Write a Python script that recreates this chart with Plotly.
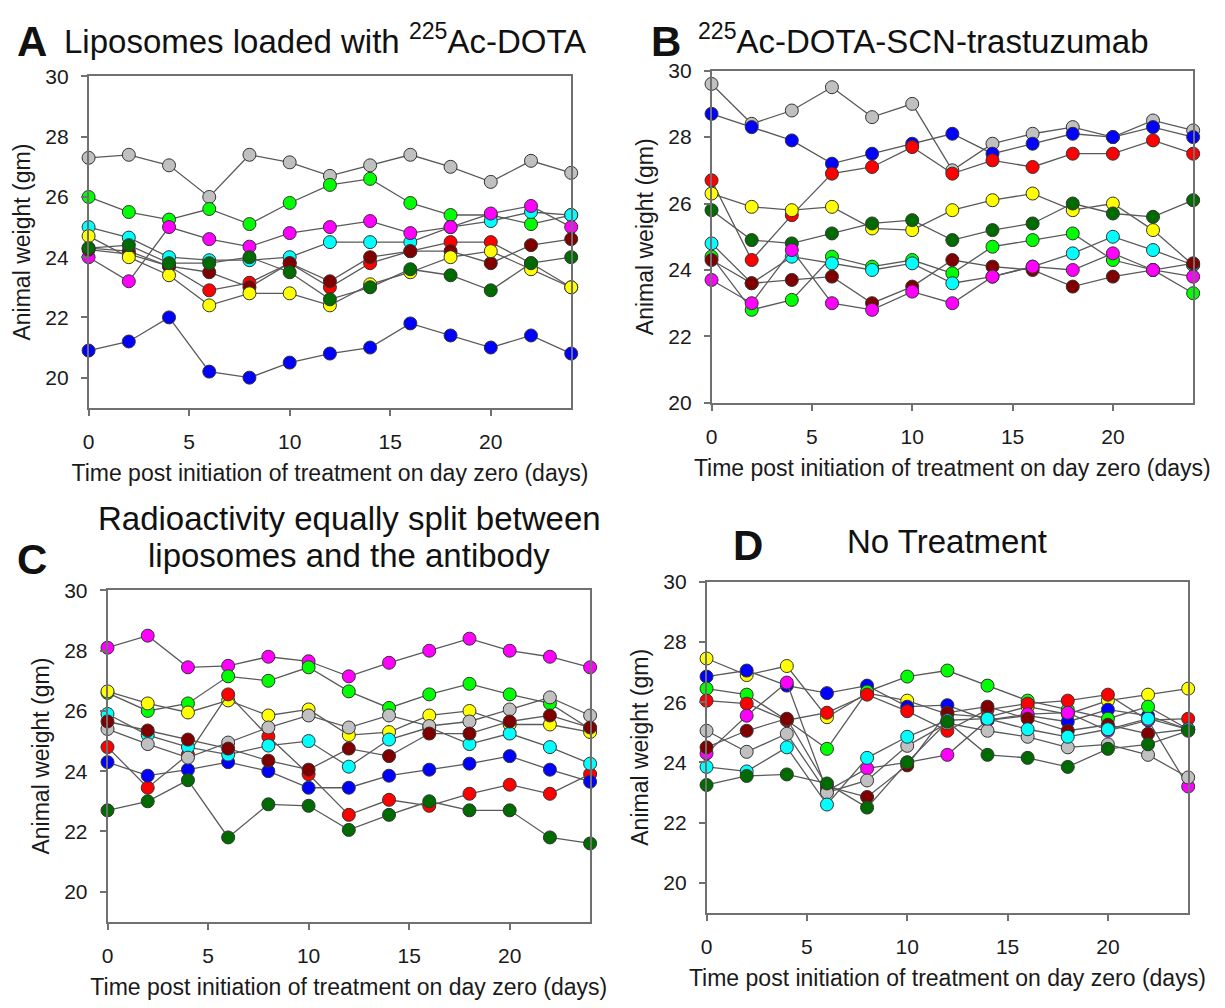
import plotly.graph_objects as go

W, H = 1225, 1008
days = [0, 2, 4, 6, 8, 10, 12, 14, 16, 18, 20, 22, 24]

# ---------------- Panel A: Liposomes loaded with 225Ac-DOTA ----------------
A_gray    = [27.3, 27.4, 27.05, 26.0, 27.4, 27.15, 26.7, 27.05, 27.4, 27.0, 26.5, 27.2, 26.8]
A_green   = [26.0, 25.5, 25.25, 25.6, 25.1, 25.8, 26.4, 26.6, 25.8, 25.4, 25.4, 25.1, 25.4]
A_cyan    = [25.0, 24.65, 24.0, 23.9, 23.9, 24.0, 24.5, 24.5, 24.5, 25.0, 25.2, 25.5, 25.4]
A_magenta = [24.0, 23.2, 25.0, 24.6, 24.35, 24.8, 25.0, 25.2, 24.8, 25.0, 25.45, 25.7, 25.0]
A_red     = [24.3, 24.2, 23.7, 22.9, 23.15, 23.8, 23.0, 23.8, 24.2, 24.5, 24.5, 23.8, 23.0]
A_maroon  = [24.25, 24.1, 23.7, 23.5, 23.0, 23.8, 23.2, 24.0, 24.2, 24.2, 23.8, 24.4, 24.6]
A_yellow  = [24.7, 24.0, 23.4, 22.4, 22.8, 22.8, 22.4, 23.1, 23.5, 24.0, 24.2, 23.6, 23.0]
A_dkgreen = [24.3, 24.4, 23.8, 23.8, 24.0, 23.5, 22.6, 23.0, 23.6, 23.4, 22.9, 23.8, 24.0]
A_blue    = [20.9, 21.2, 22.0, 20.2, 20.0, 20.5, 20.8, 21.0, 21.8, 21.4, 21.0, 21.4, 20.8]

# ---------------- Panel B: 225Ac-DOTA-SCN-trastuzumab ----------------
B_gray    = [29.6, 28.4, 28.8, 29.5, 28.6, 29.0, 27.0, 27.8, 28.1, 28.3, 28.0, 28.5, 28.2]
B_blue    = [28.7, 28.3, 27.9, 27.2, 27.5, 27.8, 28.1, 27.5, 27.8, 28.1, 28.0, 28.3, 28.0]
B_red     = [26.7, 24.3, 25.65, 26.9, 27.1, 27.7, 26.9, 27.3, 27.1, 27.5, 27.5, 27.9, 27.5]
B_yellow  = [26.3, 25.9, 25.8, 25.9, 25.25, 25.2, 25.8, 26.1, 26.3, 25.8, 26.0, 25.2, 24.15]
B_dkgreen = [25.8, 24.9, 24.8, 25.1, 25.4, 25.5, 24.9, 25.2, 25.4, 26.0, 25.7, 25.6, 26.1]
B_green   = [24.4, 22.8, 23.1, 24.4, 24.1, 24.3, 23.9, 24.7, 24.9, 25.1, 24.3, 24.0, 23.3]
B_cyan    = [24.8, 23.6, 24.4, 24.2, 24.0, 24.2, 23.6, 23.8, 24.1, 24.5, 25.0, 24.6, 24.15]
B_maroon  = [24.3, 23.6, 23.7, 23.8, 23.0, 23.5, 24.3, 24.1, 24.0, 23.5, 23.8, 24.0, 24.2]
B_magenta = [23.7, 23.0, 24.6, 23.0, 22.8, 23.35, 23.0, 23.8, 24.1, 24.0, 24.5, 24.0, 23.8]

# ---------------- Panel C: split between liposomes and antibody ----------------
C_magenta = [28.1, 28.5, 27.45, 27.5, 27.8, 27.65, 27.15, 27.6, 28.0, 28.4, 28.0, 27.8, 27.45]
C_green   = [26.6, 26.0, 26.25, 27.15, 27.0, 27.45, 26.65, 26.1, 26.55, 26.9, 26.55, 26.25, 25.4]
C_yellow  = [26.65, 26.25, 25.95, 26.35, 25.85, 26.05, 25.2, 25.3, 25.85, 26.0, 25.55, 25.55, 25.3]
C_red     = [24.8, 23.45, 24.55, 26.55, 25.15, 23.9, 22.55, 23.05, 22.85, 23.25, 23.55, 23.25, 23.9]
C_blue    = [24.3, 23.85, 24.05, 24.3, 24.0, 23.45, 23.45, 23.85, 24.05, 24.25, 24.5, 24.05, 23.65]
C_dkgreen = [22.7, 23.0, 23.7, 21.8, 22.9, 22.85, 22.05, 22.55, 23.0, 22.7, 22.7, 21.8, 21.6]
C_cyan    = [25.9, 25.2, 24.8, 24.55, 24.85, 25.0, 24.15, 25.05, 25.45, 24.9, 25.25, 24.8, 24.25]
C_gray    = [25.4, 24.9, 24.45, 24.95, 25.45, 25.85, 25.45, 25.85, 25.5, 25.65, 26.05, 26.45, 25.85]
C_maroon  = [25.65, 25.35, 25.05, 24.75, 24.35, 24.05, 24.75, 24.5, 25.25, 25.25, 25.65, 25.85, 25.45]

# ---------------- Panel D: No Treatment ----------------
D_yellow  = [27.45, 26.9, 27.2, 25.5, 26.3, 26.05, 25.6, 25.5, 25.85, 25.6, 26.05, 26.25, 26.45]
D_blue    = [26.85, 27.05, 26.55, 26.3, 26.55, 25.85, 25.9, 25.4, 25.55, 25.35, 25.75, 25.55, 25.1]
D_green   = [26.45, 26.25, 25.4, 24.45, 26.35, 26.85, 27.05, 26.55, 26.05, 25.75, 25.45, 25.85, 25.1]
D_red     = [26.05, 25.95, 25.4, 25.65, 26.25, 25.7, 25.05, 25.75, 25.95, 26.05, 26.25, 25.4, 25.45]
D_magenta = [24.3, 25.55, 26.65, 23.05, 23.8, 24.0, 24.25, 25.4, 25.6, 25.65, 25.05, 25.4, 23.2]
D_maroon  = [24.5, 25.05, 25.45, 23.2, 22.85, 23.9, 25.65, 25.85, 25.45, 25.05, 25.25, 24.95, 25.1]
D_gray    = [25.05, 24.35, 24.95, 23.0, 23.4, 24.55, 25.3, 25.05, 24.85, 24.5, 24.6, 24.25, 23.5]
D_cyan    = [23.85, 23.7, 24.5, 22.6, 24.15, 24.85, 25.4, 25.45, 25.1, 24.85, 25.1, 25.45, 25.1]
D_dkgreen = [23.25, 23.55, 23.6, 23.3, 22.5, 24.0, 25.35, 24.25, 24.15, 23.85, 24.45, 24.6, 25.05]

COL = {
    "gray": "#C0C0C0", "green": "#00FF00", "cyan": "#00FFFF", "magenta": "#FF00FF",
    "red": "#FF0000", "maroon": "#800000", "yellow": "#FFFF00", "dkgreen": "#006B00",
    "blue": "#0000FF",
}

panels = [
    [("gray", A_gray), ("green", A_green), ("cyan", A_cyan), ("magenta", A_magenta),
     ("red", A_red), ("maroon", A_maroon), ("yellow", A_yellow), ("dkgreen", A_dkgreen),
     ("blue", A_blue)],
    [("gray", B_gray), ("blue", B_blue), ("red", B_red), ("yellow", B_yellow),
     ("dkgreen", B_dkgreen), ("green", B_green), ("cyan", B_cyan), ("maroon", B_maroon),
     ("magenta", B_magenta)],
    [("magenta", C_magenta), ("green", C_green), ("yellow", C_yellow), ("red", C_red),
     ("blue", C_blue), ("dkgreen", C_dkgreen), ("cyan", C_cyan), ("gray", C_gray),
     ("maroon", C_maroon)],
    [("yellow", D_yellow), ("blue", D_blue), ("green", D_green), ("red", D_red),
     ("magenta", D_magenta), ("maroon", D_maroon), ("gray", D_gray), ("cyan", D_cyan),
     ("dkgreen", D_dkgreen)],
]

# plot areas in pixels: (left, right, top, bottom)
boxes = [(83, 568, 66, 405), (709, 1193, 60, 400), (102, 587, 592, 931), (704, 1188, 583, 922)]
yranges = [[19, 30], [20, 30], [19, 30], [19, 30]]

FONT = "Liberation Sans, Arial, sans-serif"
fig = go.Figure()

for i, (series, box, yr) in enumerate(zip(panels, boxes, yranges)):
    n = "" if i == 0 else str(i + 1)
    for name, vals in series:
        fig.add_trace(go.Scatter(
            x=days, y=vals, mode="lines+markers", xaxis="x" + n, yaxis="y" + n,
            line=dict(color="#5a5a5a", width=1.3),
            marker=dict(size=13, color=COL[name], line=dict(color="#333333", width=1)),
            cliponaxis=False, showlegend=False, hoverinfo="x+y"))
    l, r, t, b = box
    common = dict(showline=True, linecolor="#707070", linewidth=1.5, mirror=True,
                  ticks="outside", ticklen=6, tickcolor="#707070", tickwidth=1.5,
                  showgrid=False, zeroline=False, ticklabelstandoff=8,
                  tickfont=dict(family=FONT, size=21, color="#1a1a1a"))
    fig.update_layout(**{
        "xaxis" + n: dict(domain=[l / W, r / W], anchor="y" + n, range=[0, 24],
                          tickvals=[0, 5, 10, 15, 20],
                          title=dict(text="Time post initiation of treatment on day zero (days)",
                                     font=dict(family=FONT, size=23, color="#1a1a1a"), standoff=13),
                          **common),
        "yaxis" + n: dict(domain=[1 - b / H, 1 - t / H], anchor="x" + n, range=yr,
                          tickvals=[20, 22, 24, 26, 28, 30],
                          title=dict(text="Animal weight (gm)",
                                     font=dict(family=FONT, size=23, color="#1a1a1a"), standoff=8),
                          **common),
    })

def px(x, y):
    return x / W, 1 - y / H

annots = []
def add_text(text, x, y, size, bold=False, xanchor="left"):
    ax, ay = px(x, y)
    annots.append(dict(text=("<b>%s</b>" % text) if bold else text, x=ax, y=ay,
                       xref="paper", yref="paper", xanchor=xanchor, yanchor="middle",
                       showarrow=False, font=dict(family=FONT, size=size, color="#111111")))

add_text("A", 9, 30, 42, bold=True)
add_text("Liposomes loaded with <sup>225</sup>Ac-DOTA", 56, 28, 33)
add_text("B", 646, 30, 42, bold=True)
add_text("<sup>225</sup>Ac-DOTA-SCN-trastuzumab", 693, 28, 33)
add_text("Radioactivity equally split between", 345, 518, 33, xanchor="center")
add_text("liposomes and the antibody", 345, 556, 33, xanchor="center")
add_text("C", 9, 560, 42, bold=True)
add_text("D", 729, 546, 42, bold=True)
add_text("No Treatment", 946, 542, 33, xanchor="center")

fig.update_layout(width=W, height=H, margin=dict(l=0, r=0, t=0, b=0),
                  paper_bgcolor="white", plot_bgcolor="white", annotations=annots)

fig.write_html("out.html")
